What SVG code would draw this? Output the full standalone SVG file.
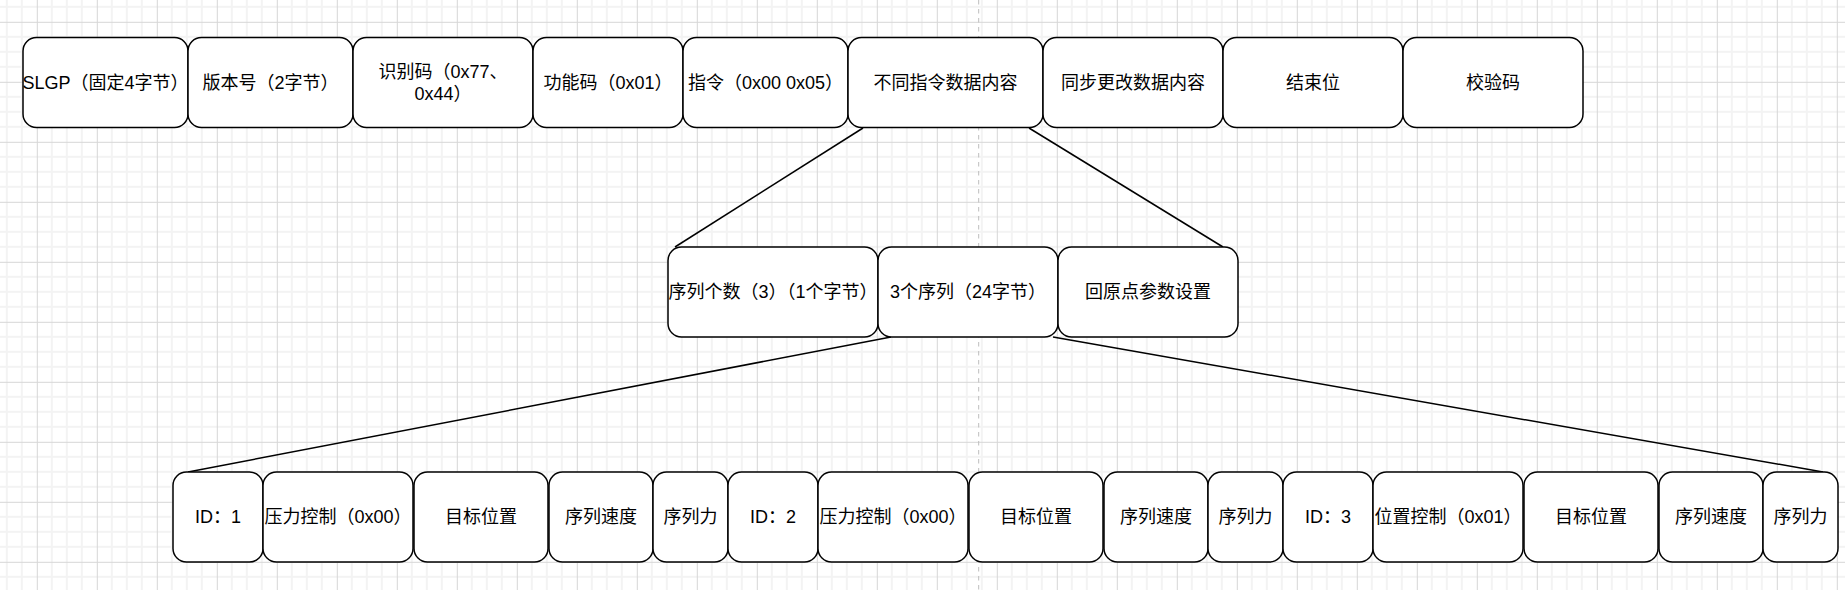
<svg xmlns="http://www.w3.org/2000/svg" width="1845" height="590" viewBox="0 0 1845 590">
  <style>
    .box { fill: #ffffff; stroke: #000000; stroke-width: 1.5; }
    .lbl { font-family: "Liberation Sans", "Noto Sans CJK SC", sans-serif; font-size: 18px; fill: #000000; text-anchor: middle; dominant-baseline: central; }
    .edge { stroke: #000000; stroke-width: 1.5; fill: none; }
  </style>
  <defs>
    <pattern id="grid" width="60" height="60" patternUnits="userSpaceOnUse" x="36.8" y="21.8">
      <rect x="14" y="0" width="2" height="60" fill="#f3f3f3"/>
      <rect x="29" y="0" width="2" height="60" fill="#f3f3f3"/>
      <rect x="44" y="0" width="2" height="60" fill="#f3f3f3"/>
      <rect x="0" y="14" width="60" height="2" fill="#f3f3f3"/>
      <rect x="0" y="29" width="60" height="2" fill="#f3f3f3"/>
      <rect x="0" y="44" width="60" height="2" fill="#f3f3f3"/>
      <rect x="0" y="0" width="1" height="60" fill="#d6d6d6"/>
      <rect x="0" y="0" width="60" height="1" fill="#d6d6d6"/>
    </pattern>
  </defs>
  <rect x="0" y="0" width="1845" height="590" fill="#ffffff"/>
  <rect x="0" y="0" width="1845" height="590" fill="url(#grid)"/>
  <line x1="978.7" y1="0" x2="978.7" y2="590" stroke="#bdbdbd" stroke-width="1" stroke-dasharray="4.5 4.5"/>

  <g id="connectors">
    <line class="edge" x1="863" y1="128" x2="675" y2="247"/>
    <line class="edge" x1="1029" y1="128" x2="1223" y2="247"/>
    <line class="edge" x1="891" y1="337" x2="188" y2="472"/>
    <line class="edge" x1="1053" y1="337" x2="1823" y2="472"/>
  </g>

  <g id="n-slgp"><rect class="box" x="23" y="37.5" width="165" height="90" rx="13.5"/><text class="lbl" x="105.5" y="82.5">SLGP（固定4字节）</text></g>
  <g id="n-version"><rect class="box" x="188" y="37.5" width="165" height="90" rx="13.5"/><text class="lbl" x="270.5" y="82.5">版本号（2字节）</text></g>
  <g id="n-ident"><rect class="box" x="353" y="37.5" width="180" height="90" rx="13.5"/><text class="lbl" x="443" y="72">识别码（0x77、</text><text class="lbl" x="443" y="93.5">0x44）</text></g>
  <g id="n-func"><rect class="box" x="533" y="37.5" width="150" height="90" rx="13.5"/><text class="lbl" x="608" y="82.5">功能码（0x01）</text></g>
  <g id="n-cmd"><rect class="box" x="683" y="37.5" width="165" height="90" rx="13.5"/><text class="lbl" x="765.5" y="82.5">指令（0x00 0x05）</text></g>
  <g id="n-data"><rect class="box" x="848" y="37.5" width="195" height="90" rx="13.5"/><text class="lbl" x="945.5" y="82.5">不同指令数据内容</text></g>
  <g id="n-sync"><rect class="box" x="1043" y="37.5" width="180" height="90" rx="13.5"/><text class="lbl" x="1133" y="82.5">同步更改数据内容</text></g>
  <g id="n-end"><rect class="box" x="1223" y="37.5" width="180" height="90" rx="13.5"/><text class="lbl" x="1313" y="82.5">结束位</text></g>
  <g id="n-check"><rect class="box" x="1403" y="37.5" width="180" height="90" rx="13.5"/><text class="lbl" x="1493" y="82.5">校验码</text></g>

  <g id="n-count"><rect class="box" x="668" y="247" width="210" height="90" rx="13.5"/><text class="lbl" x="773" y="292">序列个数（3）（1个字节）</text></g>
  <g id="n-seqs"><rect class="box" x="878" y="247" width="180" height="90" rx="13.5"/><text class="lbl" x="968" y="292">3个序列（24字节）</text></g>
  <g id="n-home"><rect class="box" x="1058" y="247" width="180" height="90" rx="13.5"/><text class="lbl" x="1148" y="292">回原点参数设置</text></g>

  <g id="n-id1"><rect class="box" x="173" y="472" width="90" height="90" rx="13.5"/><text class="lbl" x="218" y="517">ID：1</text></g>
  <g id="n-ctrl1"><rect class="box" x="263" y="472" width="150" height="90" rx="13.5"/><text class="lbl" x="338" y="517">压力控制（0x00）</text></g>
  <g id="n-pos1"><rect class="box" x="414" y="472" width="134" height="90" rx="13.5"/><text class="lbl" x="481" y="517">目标位置</text></g>
  <g id="n-spd1"><rect class="box" x="549" y="472" width="104" height="90" rx="13.5"/><text class="lbl" x="601" y="517">序列速度</text></g>
  <g id="n-frc1"><rect class="box" x="653" y="472" width="75" height="90" rx="13.5"/><text class="lbl" x="690.5" y="517">序列力</text></g>

  <g id="n-id2"><rect class="box" x="728" y="472" width="90" height="90" rx="13.5"/><text class="lbl" x="773" y="517">ID：2</text></g>
  <g id="n-ctrl2"><rect class="box" x="818" y="472" width="150" height="90" rx="13.5"/><text class="lbl" x="893" y="517">压力控制（0x00）</text></g>
  <g id="n-pos2"><rect class="box" x="969" y="472" width="134" height="90" rx="13.5"/><text class="lbl" x="1036" y="517">目标位置</text></g>
  <g id="n-spd2"><rect class="box" x="1104" y="472" width="104" height="90" rx="13.5"/><text class="lbl" x="1156" y="517">序列速度</text></g>
  <g id="n-frc2"><rect class="box" x="1208" y="472" width="75" height="90" rx="13.5"/><text class="lbl" x="1245.5" y="517">序列力</text></g>

  <g id="n-id3"><rect class="box" x="1283" y="472" width="90" height="90" rx="13.5"/><text class="lbl" x="1328" y="517">ID：3</text></g>
  <g id="n-ctrl3"><rect class="box" x="1373" y="472" width="150" height="90" rx="13.5"/><text class="lbl" x="1448" y="517">位置控制（0x01）</text></g>
  <g id="n-pos3"><rect class="box" x="1524" y="472" width="134" height="90" rx="13.5"/><text class="lbl" x="1591" y="517">目标位置</text></g>
  <g id="n-spd3"><rect class="box" x="1659" y="472" width="104" height="90" rx="13.5"/><text class="lbl" x="1711" y="517">序列速度</text></g>
  <g id="n-frc3"><rect class="box" x="1763" y="472" width="75" height="90" rx="13.5"/><text class="lbl" x="1800.5" y="517">序列力</text></g>
</svg>
